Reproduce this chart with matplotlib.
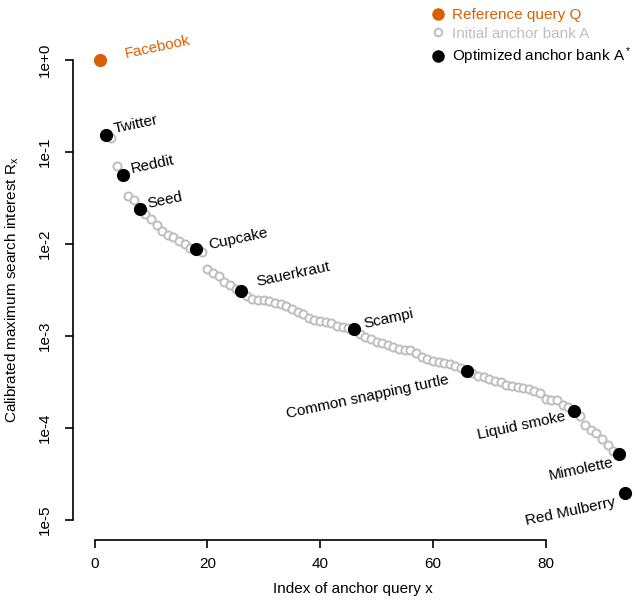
import numpy as np
import matplotlib
matplotlib.use("Agg")
import matplotlib.pyplot as plt
from matplotlib.lines import Line2D

plt.rcParams['font.family'] = ['Liberation Sans', 'DejaVu Sans']
plt.rcParams['mathtext.fontset'] = 'custom'
plt.rcParams['mathtext.rm'] = 'Liberation Sans'
plt.rcParams['mathtext.default'] = 'regular'

# initial anchor bank (gray), index 2..93
initial_x = list(range(2, 94))
initial_y = [
    0.153, 0.142, 0.0705, 0.0562, 0.0332, 0.0301, 0.0246, 0.0212, 0.0185, 0.0161,
    0.0137, 0.0124, 0.0118, 0.0109, 0.00988, 0.00916, 0.00875, 0.00824, 0.00535, 0.00484,
    0.00449, 0.00382, 0.00354, 0.00328, 0.00305, 0.00272, 0.00254, 0.00248, 0.00244, 0.00238,
    0.00230, 0.00220, 0.00212, 0.00196, 0.00182, 0.00173, 0.00155, 0.00149, 0.00147, 0.00143,
    0.00137, 0.00130, 0.00124, 0.00121, 0.00117, 0.00105, 0.000985, 0.000927, 0.000871, 0.000833,
    0.000798, 0.000754, 0.000726, 0.000708, 0.000699, 0.000654, 0.000594, 0.000560, 0.000535, 0.000521,
    0.000510, 0.000494, 0.000471, 0.000449, 0.000417, 0.000393, 0.000372, 0.000355, 0.000340, 0.000328,
    0.000313, 0.000297, 0.000283, 0.000276, 0.000269, 0.000263, 0.000254, 0.000241, 0.000205, 0.000201,
    0.000200, 0.000178, 0.000168, 0.000155, 0.000135, 0.000108, 9.51e-5, 8.91e-5, 7.59e-5, 6.53e-5,
    5.69e-5, 5.09e-5,
]

# optimized anchor bank (black)
opt_names = ["Twitter", "Reddit", "Seed", "Cupcake", "Sauerkraut", "Scampi",
             "Common snapping turtle", "Liquid smoke", "Mimolette", "Red Mulberry"]
opt_x = [2, 5, 8, 18, 26, 46, 66, 85, 93, 94]
opt_y = [0.153, 0.0562, 0.0238, 0.00875, 0.00311, 0.00118, 0.000417, 0.000153, 5.18e-5, 1.95e-5]

# reference query
ref_name = "Facebook"
ref_x = [1]
ref_y = [1.0]

orange = '#D95F02'
gray = '#BEBEBE'

fig = plt.figure(figsize=(6.37, 6.04), dpi=100)
ax = fig.add_axes([73/637, 1 - 540/604, (632 - 73)/637, 500/604])

ax.scatter(initial_x, initial_y, s=34, facecolors='white', edgecolors=gray,
           linewidths=1.4, zorder=2)
ax.scatter(opt_x, opt_y, s=72, color='black', zorder=3)
ax.scatter(ref_x, ref_y, s=72, color=orange, zorder=4)

rot = 12
# label offsets in points (dx, dy), side
offsets = {
    "Twitter": (6, 4, 'left'),
    "Reddit": (6, 4, 'left'),
    "Seed": (6, 4, 'left'),
    "Cupcake": (9, 3, 'left'),
    "Sauerkraut": (11, 6, 'left'),
    "Scampi": (7, 4, 'left'),
    "Common snapping turtle": (-13, -6, 'right'),
    "Liquid smoke": (-6, -4, 'right'),
    "Mimolette": (-4, -6, 'right'),
    "Red Mulberry": (-7, -6, 'right'),
}
for name, x, y in zip(opt_names, opt_x, opt_y):
    dx, dy, ha = offsets[name]
    ax.annotate(name, (x, y), xytext=(dx, dy), textcoords='offset points',
                ha=ha, va='center', rotation=rot, rotation_mode='anchor',
                fontsize=11, color='black')
ax.annotate(ref_name, (ref_x[0], ref_y[0]), xytext=(18, 4), textcoords='offset points',
            ha='left', va='center', rotation=rot, rotation_mode='anchor',
            fontsize=11, color=orange)

ax.set_yscale('log')
ax.set_xlim((73 - 94.5)/5.64, (632 - 94.5)/5.64)
ax.set_ylim(10**(-480/92), 10**(20/92))
ax.set_xticks([0, 20, 40, 60, 80])
ax.set_yticks([1e0, 1e-1, 1e-2, 1e-3, 1e-4, 1e-5])
ax.set_yticklabels(["1e+0", "1e-1", "1e-2", "1e-3", "1e-4", "1e-5"],
                   rotation=90, va='center')
ax.minorticks_off()
ax.tick_params(axis='both', direction='out', length=6, width=1.2, labelsize=11)
ax.tick_params(axis='x', pad=6)
ax.tick_params(axis='y', pad=9)
ax.spines['top'].set_visible(False)
ax.spines['right'].set_visible(False)
ax.spines['left'].set_bounds(1e-5, 1e0)
ax.spines['bottom'].set_bounds(0, 80)
ax.spines['left'].set_linewidth(1.2)
ax.spines['bottom'].set_linewidth(1.2)

ax.set_xlabel("Index of anchor query x", fontsize=11, labelpad=8)
ax.set_ylabel("Calibrated maximum search interest R$_x$", fontsize=11, labelpad=12)

handles = [
    Line2D([], [], marker='o', ls='', color=orange, markersize=8),
    Line2D([], [], marker='o', ls='', markerfacecolor='white', markeredgecolor=gray,
           markeredgewidth=1.4, markersize=5.5),
    Line2D([], [], marker='o', ls='', color='black', markersize=8),
]
fig.legend(handles, ["Reference query Q", "Initial anchor bank A", "Optimized anchor bank A$^*$"],
           loc='upper left', bbox_to_anchor=(423/637, 1 - 2/604), frameon=False,
           fontsize=11, labelspacing=0.3, handletextpad=0.3, handlelength=1.2,
           borderaxespad=0, labelcolor=[orange, gray, 'black'])

fig.savefig("out.png", dpi=100)
